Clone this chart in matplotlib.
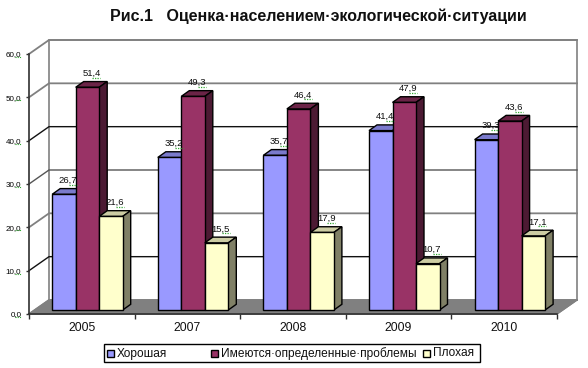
import matplotlib
matplotlib.use('Agg')
import matplotlib.pyplot as plt
from matplotlib.patches import Polygon, Rectangle

years = ['2005', '2007', '2008', '2009', '2010']
good = [26.7, 35.2, 35.7, 41.4, 39.3]
problems = [51.4, 49.3, 46.4, 47.9, 43.6]
bad = [21.6, 15.5, 17.9, 10.7, 17.1]
series_names = ['Хорошая', 'Имеются·определенные·проблемы', 'Плохая']
y_ticks = [0, 10, 20, 30, 40, 50, 60]
grid_colors = ['#808080', '#111111', '#808080', '#555555', '#111111', '#808080', '#808080']

face_colors = ['#9999FF', '#993366', '#FFFFCC']
top_colors = ['#7A7ACC', '#6B2447', '#CCCCA3']
side_colors = ['#5C5C99', '#4C1A33', '#808066']

plt.rcParams['font.family'] = ['Liberation Sans', 'DejaVu Sans']

W, H = 588, 368
fig = plt.figure(figsize=(W / 100, H / 100), dpi=100)
left, right, top, bottom = 29, 557, 54, 314
ax = fig.add_axes([left / W, 1 - bottom / H, (right - left) / W, (bottom - top) / H])
ax.set_xlim(0, 5)
ax.set_ylim(0, 60)
ax.patch.set_visible(False)

# pixels -> data units
ppx = 5 / (right - left)
ppy = 60 / (bottom - top)
wall_dx, wall_dy = 20 * ppx, 14 * ppy

# walls and floor
ax.add_patch(Polygon([(0, 0), (5, 0), (5 + wall_dx, wall_dy), (wall_dx, wall_dy)],
                     fc='#808080', ec='#808080', lw=1, clip_on=False, zorder=1))
ax.add_patch(Polygon([(wall_dx, wall_dy), (5 + wall_dx, wall_dy), (5 + wall_dx, 60 + wall_dy),
                      (wall_dx, 60 + wall_dy)], fc='white', ec='#808080', lw=1.2,
                     clip_on=False, zorder=1))
for t, c in zip(y_ticks, grid_colors):
    lw = 1.3 if c == '#808080' else 1
    ax.plot([0, wall_dx, 5 + wall_dx], [t, t + wall_dy, t + wall_dy], color=c, lw=lw,
            clip_on=False, zorder=2, solid_joinstyle='miter')
ax.plot([5, 5 + wall_dx], [0, wall_dy], color='#808080', lw=1, clip_on=False, zorder=2)

# bars
bar_w = 23.5 * ppx
start = 23.2 * ppx
base_y = 4 * ppy
d_x, d_y = 8 * ppx, 5.7 * ppy
for s, values in enumerate([good, problems, bad]):
    z = 3 + s
    xs = [i + start + s * bar_w + bar_w / 2 for i in range(len(years))]
    ax.bar(xs, values, width=bar_w, bottom=base_y, color=face_colors[s], edgecolor='black',
           lw=1, zorder=z + 0.5, clip_on=False)
    for x, v in zip(xs, values):
        x0, x1 = x - bar_w / 2, x + bar_w / 2
        y0, y1 = base_y, base_y + v
        ax.add_patch(Polygon([(x0, y1), (x1, y1), (x1 + d_x, y1 + d_y), (x0 + d_x, y1 + d_y)],
                             fc=top_colors[s], ec='black', lw=1, zorder=z, clip_on=False))
        ax.add_patch(Polygon([(x1, y0), (x1 + d_x, y0 + d_y), (x1 + d_x, y1 + d_y), (x1, y1)],
                             fc=side_colors[s], ec='black', lw=1, zorder=z, clip_on=False))
        lx, ly = x + 4 * ppx, y1 + 14 * ppy
        ax.text(lx, ly, f'{v:.1f}'.replace('.', ','), ha='center', va='center', fontsize=6.8,
                color='#101010', zorder=10, clip_on=False)
        ax.plot([lx + 1 * ppx, lx + 9 * ppx], [ly - 4.5 * ppy] * 2, color='#33A833', lw=0.9,
                ls=(0, (1, 1)), zorder=10, clip_on=False)

# axes
for name in ['top', 'right']:
    ax.spines[name].set_visible(False)
for name in ['left', 'bottom']:
    ax.spines[name].set_color('#303030')
    ax.spines[name].set_linewidth(1.2)
    ax.spines[name].set_zorder(9)
ax.set_yticks(y_ticks)
ax.set_yticklabels([f'{t:.1f}'.replace('.', ',') for t in y_ticks], fontsize=5.8)
for t in y_ticks:
    ax.plot([-14 * ppx, -8 * ppx], [t - 3 * ppy] * 2, color='#33A833', lw=0.8,
            ls=(0, (1, 1)), clip_on=False, zorder=10)
ax.tick_params(axis='y', length=2.5, width=1, pad=3, color='#303030')
ax.set_xticks(range(6))
ax.set_xticklabels([])
ax.tick_params(axis='x', length=3.5, width=1, color='#303030')
for i, year in enumerate(years):
    ax.text(i + 0.5, -14 * ppy, year, ha='center', va='center', fontsize=8.7, color='#101010',
            clip_on=False)

fig.text(318 / W, 1 - 16 / H, 'Рис.1   Оценка·населением·экологической·ситуации', ha='center',
         va='center', fontsize=11.5, fontweight='bold', color='#101010')

# legend, columns are not evenly spaced in the original
fig.add_artist(Rectangle((103.5 / W, 1 - 361.5 / H), 376 / W, 17.5 / H, fc='white', ec='black',
                         lw=1, transform=fig.transFigure))
for name, c, mx in zip(series_names, face_colors, [107, 211, 423]):
    fig.add_artist(Rectangle((mx / W, 1 - 357 / H), 7 / W, 7 / H, fc=c, ec='black', lw=1,
                             transform=fig.transFigure))
    fig.text((mx + 10) / W, 1 - 353.5 / H, name, ha='left', va='center', fontsize=8.6,
             color='#101010')

plt.savefig('out.png', dpi=100)
